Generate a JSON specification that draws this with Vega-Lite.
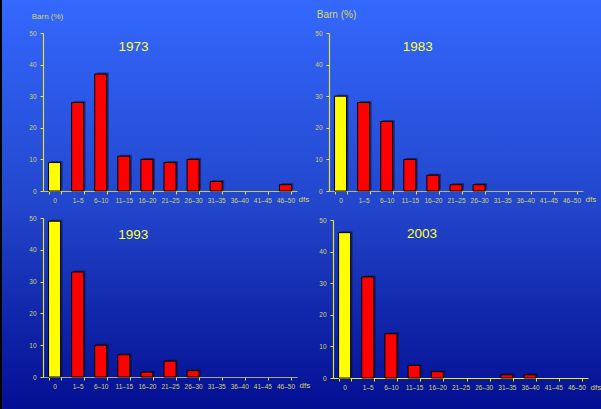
{
  "$schema": "https://vega.github.io/schema/vega-lite/v6.json",
  "background": "#000000",
  "padding": {"left": 2, "top": 0, "right": 0, "bottom": 0},
  "columns": 2,
  "align": "each",
  "bounds": "flush",
  "spacing": 0,
  "data": {"values": [
    {"year": 1973, "dfs": "0", "pct": 9},
    {"year": 1973, "dfs": "1–5", "pct": 28},
    {"year": 1973, "dfs": "6–10", "pct": 37},
    {"year": 1973, "dfs": "11–15", "pct": 11},
    {"year": 1973, "dfs": "16–20", "pct": 10},
    {"year": 1973, "dfs": "21–25", "pct": 9},
    {"year": 1973, "dfs": "26–30", "pct": 10},
    {"year": 1973, "dfs": "31–35", "pct": 3},
    {"year": 1973, "dfs": "36–40", "pct": 0},
    {"year": 1973, "dfs": "41–45", "pct": 0},
    {"year": 1973, "dfs": "46–50", "pct": 2},
    {"year": 1983, "dfs": "0", "pct": 30},
    {"year": 1983, "dfs": "1–5", "pct": 28},
    {"year": 1983, "dfs": "6–10", "pct": 22},
    {"year": 1983, "dfs": "11–15", "pct": 10},
    {"year": 1983, "dfs": "16–20", "pct": 5},
    {"year": 1983, "dfs": "21–25", "pct": 2},
    {"year": 1983, "dfs": "26–30", "pct": 2},
    {"year": 1983, "dfs": "31–35", "pct": 0},
    {"year": 1983, "dfs": "36–40", "pct": 0},
    {"year": 1983, "dfs": "41–45", "pct": 0},
    {"year": 1983, "dfs": "46–50", "pct": 0},
    {"year": 1993, "dfs": "0", "pct": 49},
    {"year": 1993, "dfs": "1–5", "pct": 33},
    {"year": 1993, "dfs": "6–10", "pct": 10},
    {"year": 1993, "dfs": "11–15", "pct": 7},
    {"year": 1993, "dfs": "16–20", "pct": 1.5},
    {"year": 1993, "dfs": "21–25", "pct": 5},
    {"year": 1993, "dfs": "26–30", "pct": 2},
    {"year": 1993, "dfs": "31–35", "pct": 0},
    {"year": 1993, "dfs": "36–40", "pct": 0},
    {"year": 1993, "dfs": "41–45", "pct": 0},
    {"year": 1993, "dfs": "46–50", "pct": 0},
    {"year": 2003, "dfs": "0", "pct": 46},
    {"year": 2003, "dfs": "1–5", "pct": 32},
    {"year": 2003, "dfs": "6–10", "pct": 14},
    {"year": 2003, "dfs": "11–15", "pct": 4},
    {"year": 2003, "dfs": "16–20", "pct": 2},
    {"year": 2003, "dfs": "21–25", "pct": 0},
    {"year": 2003, "dfs": "26–30", "pct": 0},
    {"year": 2003, "dfs": "31–35", "pct": 1},
    {"year": 2003, "dfs": "36–40", "pct": 1},
    {"year": 2003, "dfs": "41–45", "pct": 0},
    {"year": 2003, "dfs": "46–50", "pct": 0}
  ]},
  "concat": [
    {
      "width": 310, "height": 205,
      "view": {"stroke": null, "fill": {"gradient": "linear", "x1": 0, "y1": 0, "x2": 0, "y2": 1, "stops": [{"offset": 0, "color": "#3468fe"}, {"offset": 1, "color": "#2246cc"}]}},
      "title": {"text": "1973", "frame": "group", "anchor": "middle", "dx": -23.5, "offset": -60.7, "baseline": "middle", "fontSize": 13.5, "color": "#ffff33", "font": "Liberation Sans", "fontWeight": "normal"},
      "transform": [{"filter": "datum.year === 1973 && datum.pct > 0"}],
      "encoding": {
        "x": {"field": "dfs", "type": "nominal", "sort": null,
          "scale": {"domain": ["0", "1–5", "6–10", "11–15", "16–20", "21–25", "26–30", "31–35", "36–40", "41–45", "46–50"], "range": [41, 295], "paddingInner": 0.48, "paddingOuter": 0.24},
          "axis": {"orient": "bottom", "offset": -14, "title": "dfs", "titleX": 296, "titleY": 8, "titleAlign": "left", "titleBaseline": "middle", "domainColor": "#c8c850"}},
        "y": {"field": "pct", "type": "quantitative",
          "scale": {"domain": [0, 50], "range": [191, 33], "nice": false},
          "axis": {"offset": -41, "title": "Barn (%)", "titleX": 4, "titleY": 16, "titleFontSize": 8}}
      },
      "layer": [
        {"mark": {"type": "bar", "color": "#0a1040", "opacity": 0.55, "xOffset": 2, "yOffset": -1.5}},
        {"mark": {"type": "bar", "stroke": "#000000", "strokeWidth": 1},
          "encoding": {"color": {"condition": {"test": "datum.dfs === '0'", "value": "#ffff00"}, "value": "#ff0000"}}}
      ]
    },
    {
      "width": 289, "height": 205,
      "view": {"stroke": null, "fill": {"gradient": "linear", "x1": 0, "y1": 0, "x2": 0, "y2": 1, "stops": [{"offset": 0, "color": "#3468fe"}, {"offset": 1, "color": "#2246cc"}]}},
      "title": {"text": "1983", "frame": "group", "anchor": "middle", "dx": -38.8, "offset": -60, "baseline": "middle", "fontSize": 13.5, "color": "#ffff33", "font": "Liberation Sans", "fontWeight": "normal"},
      "transform": [{"filter": "datum.year === 1983 && datum.pct > 0"}],
      "encoding": {
        "x": {"field": "dfs", "type": "nominal", "sort": null,
          "scale": {"domain": ["0", "1–5", "6–10", "11–15", "16–20", "21–25", "26–30", "31–35", "36–40", "41–45", "46–50"], "range": [17, 271], "paddingInner": 0.48, "paddingOuter": 0.24},
          "axis": {"orient": "bottom", "offset": -14, "title": "dfs", "titleX": 273, "titleY": 8, "titleAlign": "left", "titleBaseline": "middle", "domainColor": "#b4b480"}},
        "y": {"field": "pct", "type": "quantitative",
          "scale": {"domain": [0, 50], "range": [191, 33], "nice": false},
          "axis": {"offset": -17, "title": "Barn (%)", "titleX": 7, "titleY": 14.7, "titleFontSize": 10}}
      },
      "layer": [
        {"mark": {"type": "bar", "color": "#0a1040", "opacity": 0.55, "xOffset": 2, "yOffset": -1.5}},
        {"mark": {"type": "bar", "stroke": "#000000", "strokeWidth": 1},
          "encoding": {"color": {"condition": {"test": "datum.dfs === '0'", "value": "#ffff00"}, "value": "#ff0000"}}}
      ]
    },
    {
      "width": 310, "height": 204,
      "view": {"stroke": null, "fill": {"gradient": "linear", "x1": 0, "y1": 0, "x2": 0, "y2": 1, "stops": [{"offset": 0, "color": "#2246cc"}, {"offset": 0.5, "color": "#1229ad"}, {"offset": 1, "color": "#040f93"}]}},
      "title": {"text": "1993", "frame": "group", "anchor": "middle", "dx": -23.7, "offset": -43, "baseline": "middle", "fontSize": 13.5, "color": "#ffff33", "font": "Liberation Sans", "fontWeight": "normal"},
      "transform": [{"filter": "datum.year === 1993 && datum.pct > 0"}],
      "encoding": {
        "x": {"field": "dfs", "type": "nominal", "sort": null,
          "scale": {"domain": ["0", "1–5", "6–10", "11–15", "16–20", "21–25", "26–30", "31–35", "36–40", "41–45", "46–50"], "range": [41, 295], "paddingInner": 0.48, "paddingOuter": 0.24},
          "axis": {"orient": "bottom", "offset": -32, "title": "dfs", "titleX": 297, "titleY": 8, "titleAlign": "left", "titleBaseline": "middle", "domainColor": "#a8a878"}},
        "y": {"field": "pct", "type": "quantitative",
          "scale": {"domain": [0, 50], "range": [172, 13], "nice": false},
          "axis": {"offset": -41, "title": null}}
      },
      "layer": [
        {"mark": {"type": "bar", "color": "#0a1040", "opacity": 0.55, "xOffset": 2, "yOffset": -1.5}},
        {"mark": {"type": "bar", "stroke": "#000000", "strokeWidth": 1},
          "encoding": {"color": {"condition": {"test": "datum.dfs === '0'", "value": "#ffff00"}, "value": "#ff0000"}}}
      ]
    },
    {
      "width": 289, "height": 204,
      "view": {"stroke": null, "fill": {"gradient": "linear", "x1": 0, "y1": 0, "x2": 0, "y2": 1, "stops": [{"offset": 0, "color": "#2246cc"}, {"offset": 0.5, "color": "#1229ad"}, {"offset": 1, "color": "#040f93"}]}},
      "title": {"text": "2003", "frame": "group", "anchor": "middle", "dx": -34.5, "offset": -42, "baseline": "middle", "fontSize": 13.5, "color": "#ffff33", "font": "Liberation Sans", "fontWeight": "normal"},
      "transform": [{"filter": "datum.year === 2003 && datum.pct > 0"}],
      "encoding": {
        "x": {"field": "dfs", "type": "nominal", "sort": null,
          "scale": {"domain": ["0", "1–5", "6–10", "11–15", "16–20", "21–25", "26–30", "31–35", "36–40", "41–45", "46–50"], "range": [21, 276], "paddingInner": 0.48, "paddingOuter": 0.24},
          "axis": {"orient": "bottom", "offset": -31, "title": "dfs", "titleX": 278, "titleY": 9, "titleAlign": "left", "titleBaseline": "middle", "domainColor": "#f0f000"}},
        "y": {"field": "pct", "type": "quantitative",
          "scale": {"domain": [0, 50], "range": [173, 15], "nice": false},
          "axis": {"offset": -21, "title": null}}
      },
      "layer": [
        {"mark": {"type": "bar", "color": "#0a1040", "opacity": 0.55, "xOffset": 2, "yOffset": -1.5}},
        {"mark": {"type": "bar", "stroke": "#000000", "strokeWidth": 1},
          "encoding": {"color": {"condition": {"test": "datum.dfs === '0'", "value": "#ffff00"}, "value": "#ff0000"}}}
      ]
    }
  ],
  "config": {
    "view": {"stroke": null},
    "axis": {
      "grid": false,
      "domainColor": "#e0e030",
      "domainWidth": 1.2,
      "tickColor": "#e8e830",
      "tickSize": 3,
      "labelColor": "#d4d468",
      "labelFont": "Liberation Sans",
      "labelFontSize": 6.5,
      "titleColor": "#d8d860",
      "titleFont": "Liberation Sans",
      "titleFontWeight": "normal",
      "titleFontSize": 8
    },
    "axisX": {"labelAngle": 0, "tickBand": "extent", "labelPadding": 3},
    "axisY": {"values": [0, 10, 20, 30, 40, 50], "labelPadding": 4, "titleAngle": 0, "titleAlign": "center", "titleBaseline": "middle"}
  }
}
